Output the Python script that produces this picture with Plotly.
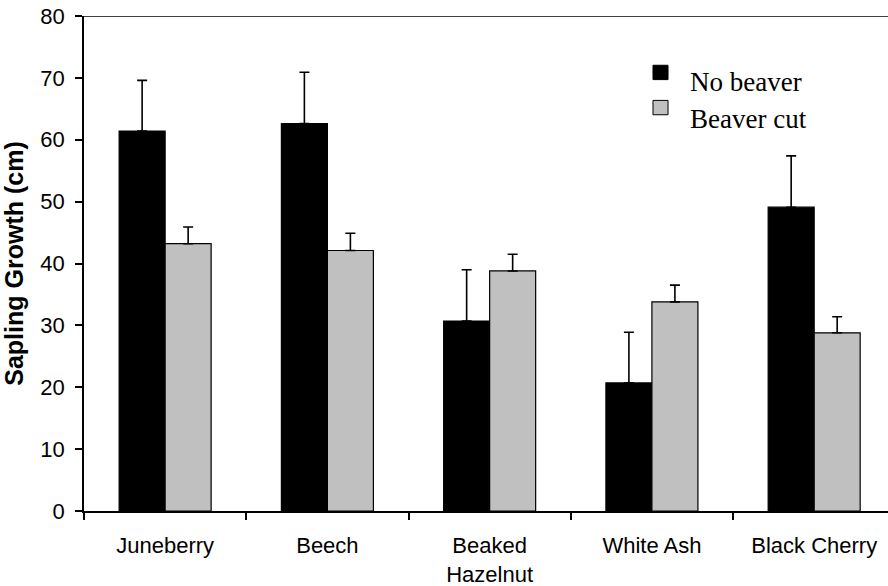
import plotly.graph_objects as go

# Sapling growth by species, with and without beaver cutting
species = ["Juneberry", "Beech", "Beaked<br>Hazelnut", "White Ash", "Black Cherry"]
no_beaver = [61.4, 62.6, 30.7, 20.7, 49.1]
no_beaver_err = [8.2, 8.3, 8.3, 8.2, 8.3]
beaver_cut = [43.2, 42.1, 38.8, 33.8, 28.8]
beaver_cut_err = [2.7, 2.8, 2.7, 2.7, 2.6]
y_ticks = [0, 10, 20, 30, 40, 50, 60, 70, 80]
series_names = ["No beaver", "Beaver cut"]
series_colors = ["#000000", "#C0C0C0"]

SANS = "Liberation Sans, Arial, sans-serif"
SERIF = "Liberation Serif, Times New Roman, serif"

fig = go.Figure()
for name, vals, errs, color in [
    (series_names[0], no_beaver, no_beaver_err, series_colors[0]),
    (series_names[1], beaver_cut, beaver_cut_err, series_colors[1]),
]:
    fig.add_trace(go.Bar(
        name=name,
        x=species,
        y=vals,
        marker=dict(color=color, line=dict(color="#000000", width=1.2)),
        error_y=dict(type="data", array=errs, arrayminus=[0] * len(errs),
                     symmetric=False, color="#000000", thickness=1.6, width=5),
        showlegend=False,
    ))

# Hand-placed legend: squares with serif labels
legend_rows = [(0.886, 0.866), (0.815, 0.791)]
for (sq_y, txt_y), name, color in zip(legend_rows, series_names, series_colors):
    fig.add_shape(type="rect", xref="paper", yref="paper",
                  x0=0.7077, x1=0.7264, y0=sq_y - 0.0145, y1=sq_y + 0.0145,
                  fillcolor=color, line=dict(color="#000000", width=1))
    fig.add_annotation(text=name, xref="paper", yref="paper",
                       x=0.7512, y=txt_y, xanchor="left", yanchor="middle",
                       showarrow=False, font=dict(family=SERIF, size=27, color="#000000"))

# Top frame line
fig.add_shape(type="line", xref="paper", yref="y", x0=0, x1=1, y0=80, y1=80,
              line=dict(color="#000000", width=1.5))

fig.update_layout(
    width=888, height=586,
    margin=dict(l=84, r=0, t=16, b=75),
    paper_bgcolor="white", plot_bgcolor="white",
    barmode="group", bargap=0.433, bargroupgap=0,
    font=dict(family=SANS, color="#000000"),
    xaxis=dict(
        range=[-0.5, 4.455],
        tickson="boundaries", ticks="outside", ticklen=7, tickwidth=1.5, tickcolor="#000000",
        showline=True, linecolor="#000000", linewidth=1.5,
        showgrid=False, zeroline=False,
        tickfont=dict(family=SANS, size=22, color="#000000"),
        ticklabelstandoff=14,
    ),
    yaxis=dict(
        range=[0, 80], tickvals=y_ticks,
        ticks="outside", ticklen=7, tickwidth=1.5, tickcolor="#000000",
        showline=True, linecolor="#000000", linewidth=1.5,
        showgrid=False, zeroline=False,
        tickfont=dict(family=SANS, size=22, color="#000000"),
        ticklabelstandoff=6,
        title=dict(text="<b>Sapling Growth (cm)</b>",
                   font=dict(family=SANS, size=25, color="#000000"), standoff=12),
    ),
)

fig.write_html("out.html")
